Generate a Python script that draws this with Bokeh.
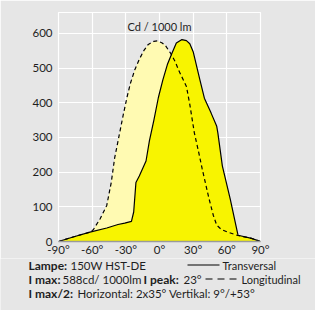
from bokeh.plotting import figure
from bokeh.models import FixedTicker, ColumnDataSource, Range1d
from bokeh.core.properties import value
from bokeh.embed import file_html
from bokeh.resources import INLINE

# Transversal (solid) intensity curve, cd/1000 lm
trans_deg = [-90, -77, -62, -47, -37, -31, -25, -23, -21, -18, -12, -9, -5, -1, 3, 7, 11,
             15, 20, 24, 27, 30, 36, 40, 46, 51, 52, 56, 63, 70, 82, 90]
trans_val = [0, 13, 27, 39, 49, 53, 58, 85, 170, 189, 232, 290, 350, 415, 466, 510, 542,
             572, 582, 579, 570, 547, 466, 413, 370, 332, 313, 218, 123, 18, 9, 0]

# Longitudinal (dashed) intensity curve
long_deg = [-90, -77, -62, -59, -53, -47, -43, -40, -36, -32, -29, -26, -22, -18, -14, -10,
            -5, -2, 2, 5, 10, 14, 17, 24, 27, 31, 35, 38, 44, 48, 51, 55, 60, 69, 82, 90]
long_val = [0, 13, 27, 34, 65, 104, 170, 240, 305, 370, 415, 455, 495, 525, 550, 568,
            577, 578, 573, 566, 542, 518, 494, 447, 395, 314, 256, 210, 125, 75, 47, 35, 28, 18, 9, 0]

x_ticks = [-90, -60, -30, 0, 30, 60, 90]
x_tick_labels = ["-90°", "-60°", "-30°", "0°", "30°", "60°", "90°"]
y_ticks = [0, 100, 200, 300, 400, 500, 600]

series_names = ["Transversal", "Longitudinal"]
info_lines = [
    [("Lampe:", True), ("150W HST-DE", False)],
    [("I max:", True), ("588cd/ 1000lm", False), ("I peak:", True), ("23°", False)],
    [("I max/2:", True), ("Horizontal: 2x35° Vertikal: 9°/+53°", False)],
]

FONT = "Lato"
BG = "#e6e6e6"
TXT = "#1e1e1e"

# ---------------- main chart ----------------
p = figure(width=315, height=258, x_range=(-90, 90), y_range=(0, 660),
           output_backend="svg", toolbar_location=None,
           min_border_left=58, min_border_right=55, min_border_top=12, min_border_bottom=15)
p.background_fill_color = BG
p.border_fill_color = BG
p.outline_line_color = "white"
p.outline_line_width = 1.2
p.xgrid.grid_line_color = "white"
p.ygrid.grid_line_color = "white"
p.xgrid.grid_line_width = 1.2
p.ygrid.grid_line_width = 1.2
p.xaxis.ticker = FixedTicker(ticks=x_ticks)
p.yaxis.ticker = FixedTicker(ticks=y_ticks)
p.xaxis.major_label_overrides = {t: l for t, l in zip(x_ticks, x_tick_labels)}
for ax in (p.xaxis, p.yaxis):
    ax.major_tick_line_color = None
    ax.minor_tick_line_color = None
    ax.major_tick_out = 0
    ax.major_tick_in = 0
    ax.major_label_text_font = FONT
    ax.major_label_text_font_size = "11.5px"
    ax.major_label_text_color = TXT
p.yaxis.axis_line_color = None
p.xaxis.axis_line_color = "#9a9a9a"
p.xaxis.axis_line_width = 1.5
p.xaxis.major_label_standoff = 1
p.yaxis.major_label_standoff = 6

src_t = ColumnDataSource(dict(x=trans_deg, y=trans_val, z=[0] * len(trans_deg)))
src_l = ColumnDataSource(dict(x=long_deg, y=long_val, z=[0] * len(long_deg)))
p.varea(x="x", y1="z", y2="y", source=src_l, fill_color="#fffab2")
p.varea(x="x", y1="z", y2="y", source=src_t, fill_color="#f8f400")
p.line(x="x", y="y", source=src_t, line_color="black", line_width=1.2)
p.line(x="x", y="y", source=src_l, line_color="black", line_width=1.2, line_dash="4 3")
p.text(x=[0], y=[620], text=["Cd / 1000 lm"], text_font=value(FONT), text_font_size="11px",
       text_align="center", text_baseline="middle", text_color=TXT)

# ---------------- info / legend strip (separate root; x = page px) ----------------
q = figure(width=315, height=52, x_range=Range1d(0, 315), y_range=Range1d(52, 0),
           output_backend="svg", toolbar_location=None, x_axis_type=None, y_axis_type=None,
           min_border_left=0, min_border_right=0, min_border_top=0, min_border_bottom=0)
q.background_fill_color = BG
q.border_fill_color = BG
q.outline_line_color = None
q.grid.visible = False

row_y = [6.5, 20.5, 34.5]
seg_x = [[28, 70], [28, 62, 143, 183], [28, 77]]
for line, xs, yy in zip(info_lines, seg_x, row_y):
    for (txt, bold), xx in zip(line, xs):
        q.text(x=[xx], y=[yy], text=[txt], text_font=value(FONT),
               text_font_size="12px" if bold else "11.5px",
               text_baseline="middle", text_color=TXT,
               text_font_style="bold" if bold else "normal")

# legend samples
q.line(x=[187, 219], y=[row_y[0], row_y[0]], line_color="black", line_width=1)
q.text(x=[222], y=[row_y[0]], text=[series_names[0]], text_font=value(FONT),
       text_font_size="11px", text_baseline="middle", text_color=TXT)
q.line(x=[205, 237], y=[row_y[1], row_y[1]], line_color="black", line_width=1, line_dash="7 5")
q.text(x=[241], y=[row_y[1]], text=[series_names[1]], text_font=value(FONT),
       text_font_size="11px", text_baseline="middle", text_color=TXT)

open("out.html", "w").write(file_html([p, q], INLINE))
